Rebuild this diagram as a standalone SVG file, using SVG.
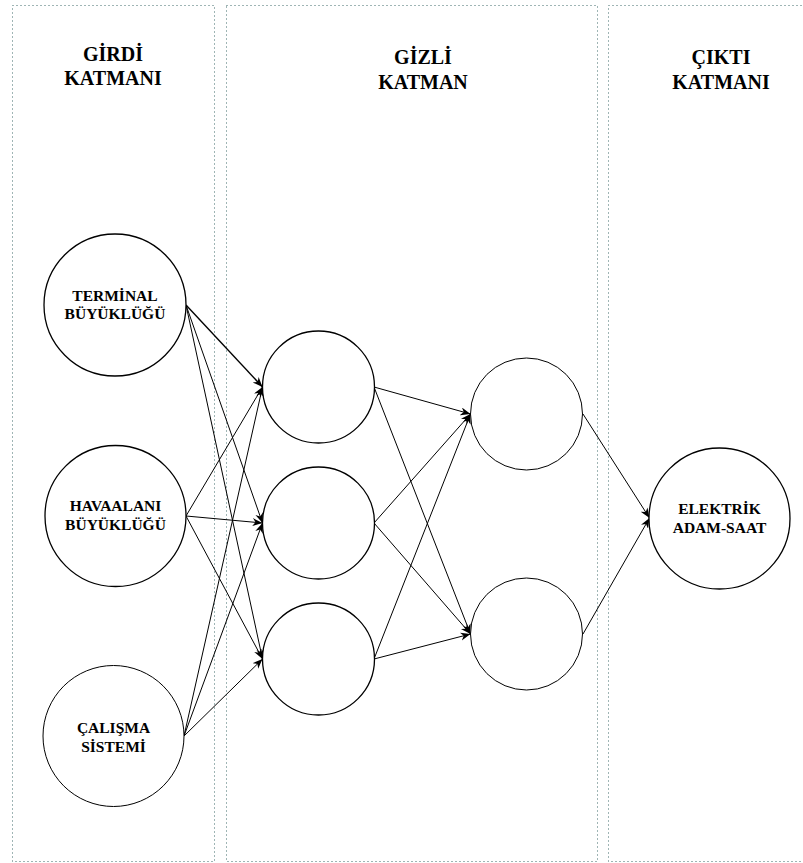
<svg xmlns="http://www.w3.org/2000/svg" width="803" height="863" viewBox="0 0 803 863">
<style>
.panel{fill:none;stroke:#3f6a6a;stroke-width:1;stroke-dasharray:1 3}
.node{fill:#fff;stroke:#000;stroke-width:1.3}
.title{font-family:'Liberation Serif','DejaVu Serif',serif;font-weight:bold;font-size:20px;text-anchor:middle;fill:#000}
.lbl{font-family:'Liberation Serif','DejaVu Serif',serif;font-weight:bold;font-size:15.5px;text-anchor:middle;fill:#000}
.edge{fill:none;stroke:#000;stroke-width:1;marker-end:url(#arr)}
</style>
<defs>
<marker id="arr" markerUnits="userSpaceOnUse" markerWidth="11" markerHeight="9" refX="10" refY="4" orient="auto">
<path d="M0,0 L10,4 L0,8 L3,4 z" fill="#000"/>
</marker>
</defs>
<g id="panels">
<rect id="panel-girdi" class="panel" x="12.5" y="5.5" width="202" height="856"/>
<rect id="panel-gizli" class="panel" x="226.5" y="5.5" width="371" height="856"/>
<rect id="panel-cikti" class="panel" x="608.5" y="5.5" width="210" height="856"/>
<text class="title" x="113" y="61" font-family="Liberation Serif, serif">GİRDİ</text>
<text class="title" x="113" y="85">KATMANI</text>
<text class="title" x="423" y="64">GİZLİ</text>
<text class="title" x="423" y="89">KATMAN</text>
<text class="title" x="721" y="64">ÇIKTI</text>
<text class="title" x="721" y="89">KATMANI</text>
</g>
<g id="connectors">
<line class="edge" x1="186" y1="305" x2="262.5" y2="387" style="stroke-width:1.4"/>
<line class="edge" x1="186" y1="305" x2="262.5" y2="523"/>
<line class="edge" x1="186" y1="305" x2="262.5" y2="659"/>
<line class="edge" x1="186" y1="516" x2="262.5" y2="387"/>
<line class="edge" x1="186" y1="516" x2="262.5" y2="523"/>
<line class="edge" x1="186" y1="516" x2="262.5" y2="659"/>
<line class="edge" x1="184" y1="736" x2="262.5" y2="387"/>
<line class="edge" x1="184" y1="736" x2="262.5" y2="523"/>
<line class="edge" x1="184" y1="736" x2="262.5" y2="659"/>
<line class="edge" x1="374" y1="387" x2="470.5" y2="414"/>
<line class="edge" x1="374" y1="387" x2="470.5" y2="634"/>
<line class="edge" x1="374" y1="523" x2="470.5" y2="414"/>
<line class="edge" x1="374" y1="523" x2="470.5" y2="634"/>
<line class="edge" x1="374" y1="659" x2="470.5" y2="414"/>
<line class="edge" x1="374" y1="659" x2="470.5" y2="634"/>
<line class="edge" x1="583" y1="414" x2="649.5" y2="518"/>
<line class="edge" x1="583" y1="634" x2="649.5" y2="518"/>
</g>
<g id="in-terminal">
<circle class="node" cx="115" cy="305" r="71"/>
<text class="lbl" x="115" y="301">TERMİNAL</text>
<text class="lbl" x="115" y="319">BÜYÜKLÜĞÜ</text>
</g>
<g id="in-havaalani">
<circle class="node" cx="115.5" cy="516" r="70.5"/>
<text class="lbl" x="115.5" y="511">HAVAALANI</text>
<text class="lbl" x="115.5" y="530">BÜYÜKLÜĞÜ</text>
</g>
<g id="in-calisma">
<circle class="node" cx="113.5" cy="736" r="70.5" style="stroke-width:1"/>
<text class="lbl" x="113.5" y="733">ÇALIŞMA</text>
<text class="lbl" x="113.5" y="752">SİSTEMİ</text>
</g>
<g id="h1-1"><circle class="node" cx="318.5" cy="387" r="56"/></g>
<g id="h1-2"><circle class="node" cx="318.5" cy="523" r="56"/></g>
<g id="h1-3"><circle class="node" cx="318.5" cy="659" r="56"/></g>
<g id="h2-1"><circle class="node" cx="526.5" cy="414" r="56" style="stroke-width:1"/></g>
<g id="h2-2"><circle class="node" cx="526.5" cy="634" r="56" style="stroke-width:1"/></g>
<g id="out-elektrik">
<circle class="node" cx="719.5" cy="518.5" r="70.5"/>
<text class="lbl" x="719.5" y="514">ELEKTRİK</text>
<text class="lbl" x="719.5" y="533">ADAM-SAAT</text>
</g>
</svg>
